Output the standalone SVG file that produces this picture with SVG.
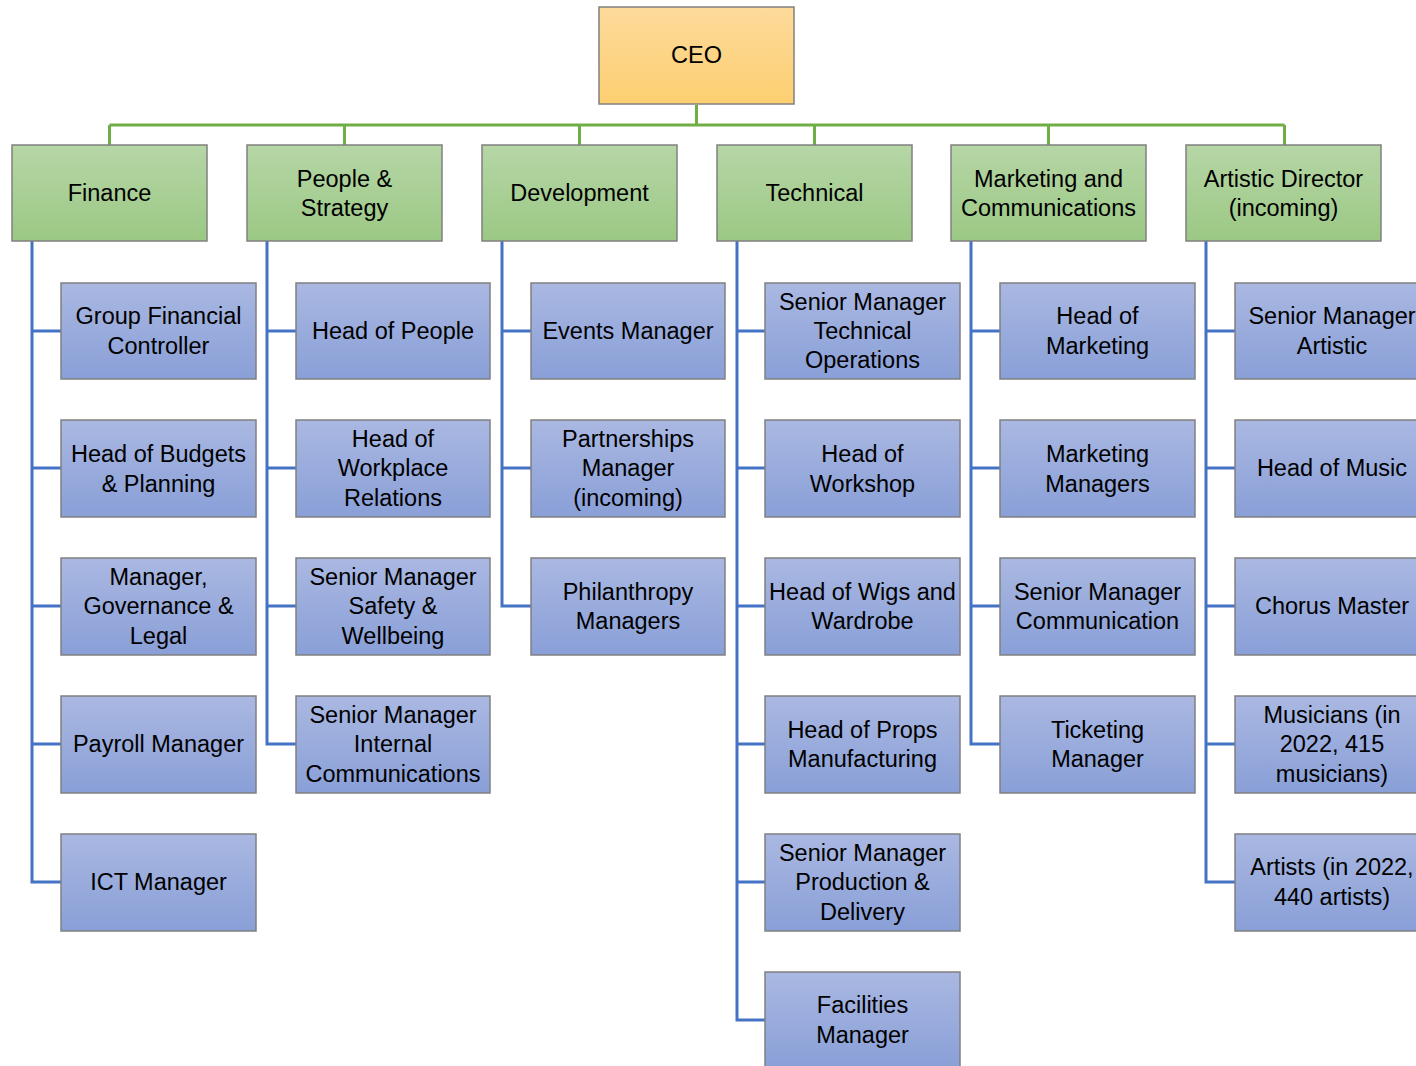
<svg xmlns="http://www.w3.org/2000/svg" width="1416" height="1066" viewBox="0 0 1416 1066">
<defs>
<linearGradient id="gBlue" x1="0" y1="0" x2="0" y2="1"><stop offset="0" stop-color="#aab8e2"/><stop offset="1" stop-color="#899fd7"/></linearGradient>
<linearGradient id="gGreen" x1="0" y1="0" x2="0" y2="1"><stop offset="0" stop-color="#b6d6a6"/><stop offset="1" stop-color="#9bc884"/></linearGradient>
<linearGradient id="gGold" x1="0" y1="0" x2="0" y2="1"><stop offset="0" stop-color="#fedb9c"/><stop offset="1" stop-color="#fdcf71"/></linearGradient>
</defs>
<style>
.box{stroke:#808080;stroke-width:1.5}
.b{fill:url(#gBlue)}
.g{fill:url(#gGreen)}
.o{fill:url(#gGold)}
text{font-family:"Liberation Sans",Arial,sans-serif;font-size:23.5px;fill:#000;text-anchor:middle}
.cg{stroke:#70ad47;stroke-width:3;fill:none}
.cb{stroke:#4472c4;stroke-width:3;fill:none}
</style>
<rect width="1416" height="1066" fill="#fff"/>
<g id="connectors">
<path class="cg" d="M696.5 105V125M109.5 125H1284.5M109.5 125V145M344.5 125V145M579.5 125V145M814.5 125V145M1048.5 125V145M1284.5 125V145"/>
<path class="cb" d="M32 241V882H61M32 331H61M32 468H61M32 606H61M32 744H61"/>
<path class="cb" d="M267 241V744H296M267 331H296M267 468H296M267 606H296"/>
<path class="cb" d="M502 241V606H531M502 331H531M502 468H531"/>
<path class="cb" d="M737 241V1020H765M737 331H765M737 468H765M737 606H765M737 744H765M737 882H765"/>
<path class="cb" d="M971 241V744H1000M971 331H1000M971 468H1000M971 606H1000"/>
<path class="cb" d="M1206 241V882H1235M1206 331H1235M1206 468H1235M1206 606H1235M1206 744H1235"/>
</g>
<g id="ceo"><rect class="box o" x="599" y="7" width="195" height="97"/><text x="696.5" y="63">CEO</text></g>
<g id="finance"><rect class="box g" x="12" y="145" width="195" height="96"/><text x="109.5" y="201">Finance</text></g>
<g id="people"><rect class="box g" x="247" y="145" width="195" height="96"/><text x="344.5" y="187">People &amp;</text><text x="344.5" y="216">Strategy</text></g>
<g id="development"><rect class="box g" x="482" y="145" width="195" height="96"/><text x="579.5" y="201">Development</text></g>
<g id="technical"><rect class="box g" x="717" y="145" width="195" height="96"/><text x="814.5" y="201">Technical</text></g>
<g id="marketing"><rect class="box g" x="951" y="145" width="195" height="96"/><text x="1048.5" y="187">Marketing and</text><text x="1048.5" y="216">Communications</text></g>
<g id="artistic"><rect class="box g" x="1186" y="145" width="195" height="96"/><text x="1283.5" y="187">Artistic Director</text><text x="1283.5" y="216">(incoming)</text></g>

<g id="f1"><rect class="box b" x="61" y="283" width="195" height="96"/><text x="158.5" y="324">Group Financial</text><text x="158.5" y="354">Controller</text></g>
<g id="f2"><rect class="box b" x="61" y="420" width="195" height="97"/><text x="158.5" y="462">Head of Budgets</text><text x="158.5" y="492">&amp; Planning</text></g>
<g id="f3"><rect class="box b" x="61" y="558" width="195" height="97"/><text x="158.5" y="585">Manager,</text><text x="158.5" y="614">Governance &amp;</text><text x="158.5" y="644">Legal</text></g>
<g id="f4"><rect class="box b" x="61" y="696" width="195" height="97"/><text x="158.5" y="752">Payroll Manager</text></g>
<g id="f5"><rect class="box b" x="61" y="834" width="195" height="97"/><text x="158.5" y="890">ICT Manager</text></g>

<g id="p1"><rect class="box b" x="296" y="283" width="194" height="96"/><text x="393" y="339">Head of People</text></g>
<g id="p2"><rect class="box b" x="296" y="420" width="194" height="97"/><text x="393" y="447">Head of</text><text x="393" y="476">Workplace</text><text x="393" y="506">Relations</text></g>
<g id="p3"><rect class="box b" x="296" y="558" width="194" height="97"/><text x="393" y="585">Senior Manager</text><text x="393" y="614">Safety &amp;</text><text x="393" y="644">Wellbeing</text></g>
<g id="p4"><rect class="box b" x="296" y="696" width="194" height="97"/><text x="393" y="723">Senior Manager</text><text x="393" y="752">Internal</text><text x="393" y="782">Communications</text></g>

<g id="d1"><rect class="box b" x="531" y="283" width="194" height="96"/><text x="628" y="339">Events Manager</text></g>
<g id="d2"><rect class="box b" x="531" y="420" width="194" height="97"/><text x="628" y="447">Partnerships</text><text x="628" y="476">Manager</text><text x="628" y="506">(incoming)</text></g>
<g id="d3"><rect class="box b" x="531" y="558" width="194" height="97"/><text x="628" y="600">Philanthropy</text><text x="628" y="629">Managers</text></g>

<g id="t1"><rect class="box b" x="765" y="283" width="195" height="96"/><text x="862.5" y="310">Senior Manager</text><text x="862.5" y="339">Technical</text><text x="862.5" y="368">Operations</text></g>
<g id="t2"><rect class="box b" x="765" y="420" width="195" height="97"/><text x="862.5" y="462">Head of</text><text x="862.5" y="492">Workshop</text></g>
<g id="t3"><rect class="box b" x="765" y="558" width="195" height="97"/><text x="862.5" y="600">Head of Wigs and</text><text x="862.5" y="629">Wardrobe</text></g>
<g id="t4"><rect class="box b" x="765" y="696" width="195" height="97"/><text x="862.5" y="738">Head of Props</text><text x="862.5" y="767">Manufacturing</text></g>
<g id="t5"><rect class="box b" x="765" y="834" width="195" height="97"/><text x="862.5" y="861">Senior Manager</text><text x="862.5" y="890">Production &amp;</text><text x="862.5" y="920">Delivery</text></g>
<g id="t6"><rect class="box b" x="765" y="972" width="195" height="97"/><text x="862.5" y="1013">Facilities</text><text x="862.5" y="1043">Manager</text></g>

<g id="m1"><rect class="box b" x="1000" y="283" width="195" height="96"/><text x="1097.5" y="324">Head of</text><text x="1097.5" y="354">Marketing</text></g>
<g id="m2"><rect class="box b" x="1000" y="420" width="195" height="97"/><text x="1097.5" y="462">Marketing</text><text x="1097.5" y="492">Managers</text></g>
<g id="m3"><rect class="box b" x="1000" y="558" width="195" height="97"/><text x="1097.5" y="600">Senior Manager</text><text x="1097.5" y="629">Communication</text></g>
<g id="m4"><rect class="box b" x="1000" y="696" width="195" height="97"/><text x="1097.5" y="738">Ticketing</text><text x="1097.5" y="767">Manager</text></g>

<g id="a1"><rect class="box b" x="1235" y="283" width="195" height="96"/><text x="1332" y="324">Senior Manager</text><text x="1332" y="354">Artistic</text></g>
<g id="a2"><rect class="box b" x="1235" y="420" width="195" height="97"/><text x="1332" y="476">Head of Music</text></g>
<g id="a3"><rect class="box b" x="1235" y="558" width="195" height="97"/><text x="1332" y="614">Chorus Master</text></g>
<g id="a4"><rect class="box b" x="1235" y="696" width="195" height="97"/><text x="1332" y="723">Musicians (in</text><text x="1332" y="752">2022, 415</text><text x="1332" y="782">musicians)</text></g>
<g id="a5"><rect class="box b" x="1235" y="834" width="195" height="97"/><text x="1332" y="875">Artists (in 2022,</text><text x="1332" y="905">440 artists)</text></g>
</svg>
